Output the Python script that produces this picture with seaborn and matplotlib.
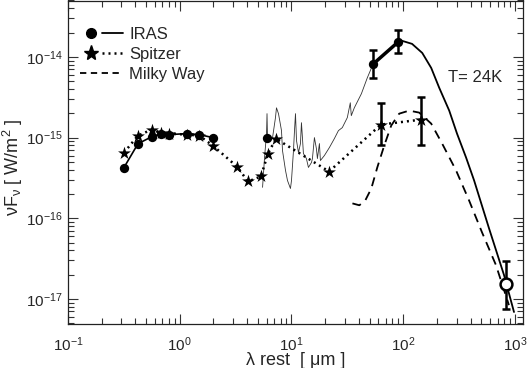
import seaborn as sns
import matplotlib
matplotlib.use("Agg")
import matplotlib.pyplot as plt
from matplotlib.lines import Line2D
from matplotlib.legend_handler import HandlerTuple
import numpy as np

# IRAS / optical photometry (filled circles)
iras_opt_wl = [0.317, 0.423, 0.565, 0.680, 0.80, 1.16, 1.49, 1.98]
iras_opt_f = [4.26e-16, 8.4e-16, 1.03e-15, 1.12e-15, 1.09e-15, 1.12e-15, 1.09e-15, 1.0e-15]
iras_mir_wl = [6.0]
iras_mir_f = [1.0e-15]
iras_fir_wl = [54.0, 90.0]
iras_fir_f = [8.2e-15, 1.53e-14]
iras_fir_lo = [5.5e-15, 1.12e-14]
iras_fir_hi = [1.22e-14, 2.16e-14]

# Spitzer (stars)
spz_wl = [0.317, 0.423, 0.565, 0.680, 0.80, 1.16, 1.49, 1.98, 3.25, 4.08, 5.33,
          6.16, 7.26, 21.7, 63.2, 144.0]
spz_f = [6.5e-16, 1.06e-15, 1.26e-15, 1.15e-15, 1.12e-15, 1.09e-15, 1.06e-15, 7.96e-16,
         4.38e-16, 2.86e-16, 3.3e-16, 6.34e-16, 9.7e-16, 3.8e-16, 1.45e-15, 1.67e-15]
spz_err_wl = [63.2, 144.0]
spz_err_f = [1.45e-15, 1.67e-15]
spz_err_lo = [8.2e-16, 8.2e-16]
spz_err_hi = [2.7e-15, 3.2e-15]

# sub-mm point (open circle)
smm_wl = [832.0]
smm_f = [1.53e-17]
smm_lo = [7.5e-18]
smm_hi = [2.94e-17]

# IRS spectrum (thin line)
irs_wl = [5.51, 5.74, 5.98, 6.04, 6.11, 6.49, 6.77, 7.19, 7.34, 7.65, 8.14, 8.31, 8.84,
          9.21, 9.79, 10.0, 10.42, 10.64, 10.86, 11.09, 11.55, 12.03, 12.28, 12.53,
          12.79, 13.6, 14.18, 15.09, 15.4, 16.04, 16.71, 17.06, 17.78, 18.15, 19.71,
          21.84, 24.2, 26.3, 28.5, 31.6, 33.6, 34.3, 36.5, 42.2, 47.7, 52.9]
irs_f = [2.42e-16, 5.66e-16, 1.12e-15, 1.98e-15, 9.18e-16, 9.18e-16, 1.0e-15, 1.77e-15,
         2.34e-15, 1.98e-15, 1.22e-15, 6.91e-16, 3.92e-16, 2.94e-16, 2.34e-16, 2.94e-16,
         6.91e-16, 1.22e-15, 1.98e-15, 9.18e-16, 6.53e-16, 8.43e-16, 1.53e-15, 1.0e-15,
         6.34e-16, 5.5e-16, 4.27e-16, 4.91e-16, 5.5e-16, 1.0e-15, 7.31e-16, 5.5e-16,
         8.43e-16, 5.2e-16, 6.0e-16, 7.53e-16, 9.72e-16, 1.22e-15, 1.33e-15, 1.77e-15,
         2.7e-15, 1.87e-15, 2.34e-15, 3.49e-15, 5.51e-15, 7.74e-15]

# T=24K modified blackbody (solid)
bb_wl = [90, 98, 120, 148, 178, 210, 258, 303, 365, 431, 586, 798, 980]
bb_f = [1.53e-14, 1.58e-14, 1.45e-14, 1.12e-14, 7.3e-15, 4.14e-15, 2.16e-15, 1.12e-15,
        5.67e-16, 2.94e-16, 7.5e-17, 1.98e-17, 6.9e-18]

# Milky Way template (dashed)
mw_wl = [35.1, 40.5, 45.8, 51.8, 58.6, 67.6, 78.1, 92, 113, 139, 178, 223, 297, 388,
         507, 676, 883]
mw_f = [1.53e-16, 1.45e-16, 1.67e-16, 2.34e-16, 4.27e-16, 7.96e-16, 1.41e-15, 1.98e-15,
        2.16e-15, 2.04e-15, 1.49e-15, 8.43e-16, 3.92e-16, 1.67e-16, 6.7e-17, 2.63e-17,
        8.4e-18]

x_major = [0.1, 1, 10, 100, 1000]
y_major = [1e-17, 1e-16, 1e-15, 1e-14]

sns.set_style("ticks")
plt.rcParams['font.family'] = ['Liberation Sans', 'DejaVu Sans']
plt.rcParams['mathtext.fontset'] = 'custom'
plt.rcParams['mathtext.rm'] = 'Liberation Sans'
plt.rcParams['mathtext.it'] = 'Liberation Sans:italic'
plt.rcParams['mathtext.default'] = 'regular'
plt.rcParams['font.size'] = 11

fig = plt.figure(figsize=(5.27, 3.68), dpi=100)
ax = fig.add_axes([68 / 527, 44 / 368, 455 / 527, 323.5 / 368])
ax.set_xscale('log')
ax.set_yscale('log')

dots = (0, (0.8, 1.6))
dash = (0, (5, 3.5))

sns.lineplot(x=irs_wl, y=irs_f, ax=ax, color='#333333', lw=0.6, sort=False, estimator=None)
sns.lineplot(x=iras_opt_wl, y=iras_opt_f, ax=ax, color='black', lw=1.2)
sns.lineplot(x=iras_fir_wl, y=iras_fir_f, ax=ax, color='black', lw=2.5)
sns.lineplot(x=bb_wl, y=bb_f, ax=ax, color='black', lw=1.3)
sns.lineplot(x=mw_wl, y=mw_f, ax=ax, color='black', lw=1.3, linestyle=dash)
sns.lineplot(x=spz_wl, y=spz_f, ax=ax, color='black', lw=1.8, linestyle=dots)

ax.errorbar(iras_fir_wl, iras_fir_f,
            yerr=[np.array(iras_fir_f) - np.array(iras_fir_lo), np.array(iras_fir_hi) - np.array(iras_fir_f)],
            fmt='none', ecolor='black', elinewidth=1.8, capsize=3.2, capthick=1.8)
ax.errorbar(spz_err_wl, spz_err_f,
            yerr=[np.array(spz_err_f) - np.array(spz_err_lo), np.array(spz_err_hi) - np.array(spz_err_f)],
            fmt='none', ecolor='black', elinewidth=1.8, capsize=3.2, capthick=1.8)
ax.errorbar(smm_wl, smm_f,
            yerr=[np.array(smm_f) - np.array(smm_lo), np.array(smm_hi) - np.array(smm_f)],
            fmt='o', color='black', mfc='white', mec='black', ms=8.5, mew=1.8,
            elinewidth=1.8, capsize=3.2, capthick=1.8)

sns.scatterplot(x=spz_wl, y=spz_f, ax=ax, marker='*', s=95, color='black', edgecolor='black', linewidth=0, zorder=4)
sns.scatterplot(x=iras_opt_wl + iras_mir_wl + iras_fir_wl, y=iras_opt_f + iras_mir_f + iras_fir_f,
                ax=ax, marker='o', s=45, color='black', edgecolor='black', linewidth=0, zorder=5)

ax.set_xticks(x_major)
ax.set_yticks(y_major)
ax.set_xlim(0.1, 1180)
ax.set_ylim(4.9e-18, 5e-14)
ax.tick_params(which='both', direction='in', top=True, right=True, width=0.8, color='#333333')
ax.tick_params(which='major', length=7, labelsize=11)
ax.tick_params(which='minor', length=4)
ax.tick_params(axis='y', which='major', pad=4)
ax.tick_params(axis='x', which='major', pad=8)
for s in ax.spines.values():
    s.set_linewidth(0.9)
    s.set_color('#222222')

ax.set_xlabel('λ rest  [ μm ]', fontsize=13)
ax.xaxis.set_label_coords(0.5, -0.113)
ax.xaxis.label.set_va('center')
ax.set_ylabel('νF$_{ν}$ [ W/m$^{2}$ ]', fontsize=13)
ax.yaxis.set_label_coords(-0.12, 0.485)
ax.yaxis.label.set_va('center')
ax.text(448 / 527, 1 - 77 / 368, 'T= 24K', transform=fig.transFigure, fontsize=12, va='center', ha='left')

h_iras = (Line2D([], [], marker='o', color='black', ls='none', ms=7),
          Line2D([], [], color='black', lw=1.3))
h_spz = (Line2D([], [], marker='*', color='black', ls='none', ms=11),
         Line2D([], [], color='black', lw=1.8, ls=dots))
h_mw = Line2D([], [], color='black', lw=1.3, ls=(0, (3.5, 2.5)))
ax.legend([h_iras, h_spz, h_mw], ['IRAS', 'Spitzer', 'Milky Way'],
          handler_map={tuple: HandlerTuple(ndivide=2, pad=0)},
          loc='upper left', bbox_to_anchor=(0.012, 0.94), frameon=False,
          handlelength=2.6, handletextpad=0.35, labelspacing=0.3, fontsize=12, borderaxespad=0)

fig.savefig('out.png', dpi=100)
